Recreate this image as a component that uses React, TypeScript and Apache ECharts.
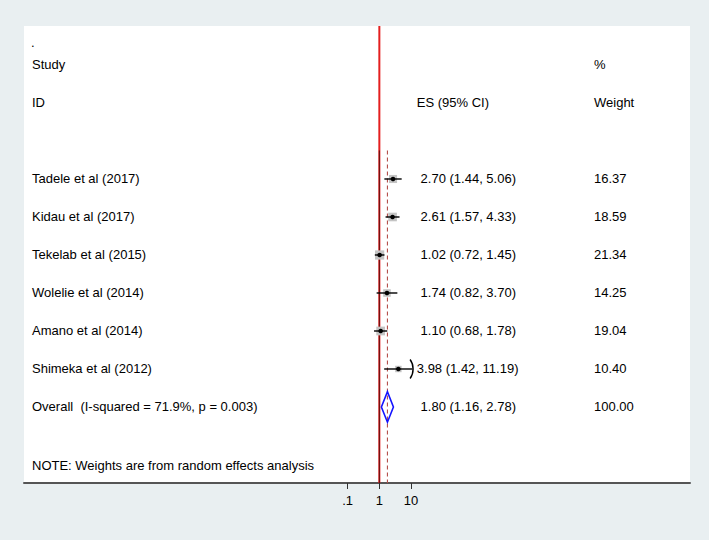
import React, { useEffect, useRef } from 'react';
import * as echarts from 'echarts';

// ---- data ----
const studies = [
  'Tadele et al (2017)',
  'Kidau et al (2017)',
  'Tekelab et al (2015)',
  'Wolelie et al (2014)',
  'Amano et al (2014)',
  'Shimeka et al (2012)',
];
const effectSizes = [2.7, 2.61, 1.02, 1.74, 1.1, 3.98];
const ciLow = [1.44, 1.57, 0.72, 0.82, 0.68, 1.42];
const ciHigh = [5.06, 4.33, 1.45, 3.7, 1.78, 11.19];
const weights = [16.37, 18.59, 21.34, 14.25, 19.04, 10.4];

const overallLabel = 'Overall\u00a0 (I-squared = 71.9%, p = 0.003)';
const overallES = 1.8;
const overallLow = 1.16;
const overallHigh = 2.78;
const overallWeight = 100.0;

const nullValue = 1;
const xTickValues = [0.1, 1, 10];
const xTickLabels = ['.1', '1', '10'];
const noteText = 'NOTE: Weights are from random effects analysis';

// ---- layout ----
const FONT = "'Liberation Sans', Arial, Helvetica, sans-serif";
const X_MIN = Math.pow(10, -11.21);
const X_MAX = Math.pow(10, 9.8);
const X_DISPLAY_MAX = 10;
const Y_MIN = -4.026;
const Y_MAX = 8;
const LINE_TOP_ROW = -0.75;
const COL_STUDY = 32;
const COL_ES = 416.8;
const COL_W = 594;
const CHAR_W = 3.8;

function fmtES(e: number, l: number, h: number) {
  return `${e.toFixed(2)} (${l.toFixed(2)}, ${h.toFixed(2)})`;
}

type TextEntry = { row: number; x: number; text: string };

function buildTexts(): TextEntry[] {
  const out: TextEntry[] = [];
  out.push({ row: -3.6, x: COL_STUDY - 1, text: '.' });
  out.push({ row: -3, x: COL_STUDY, text: 'Study' });
  out.push({ row: -3, x: COL_W, text: '%' });
  out.push({ row: -2, x: COL_STUDY, text: 'ID' });
  out.push({ row: -2, x: COL_ES, text: 'ES (95% CI)' });
  out.push({ row: -2, x: COL_W, text: 'Weight' });
  const esStrings = studies.map((_, i) => fmtES(effectSizes[i], ciLow[i], ciHigh[i]));
  const ovES = fmtES(overallES, overallLow, overallHigh);
  const maxLen = Math.max(...esStrings.map((s) => s.length), ovES.length);
  studies.forEach((s, i) => {
    out.push({ row: i, x: COL_STUDY, text: s });
    out.push({ row: i, x: COL_ES + (maxLen - esStrings[i].length) * CHAR_W, text: esStrings[i] });
    out.push({ row: i, x: COL_W, text: weights[i].toFixed(2) });
  });
  const oRow = studies.length;
  out.push({ row: oRow, x: COL_STUDY, text: overallLabel });
  out.push({ row: oRow, x: COL_ES + (maxLen - ovES.length) * CHAR_W, text: ovES });
  out.push({ row: oRow, x: COL_W, text: overallWeight.toFixed(2) });
  out.push({ row: 7.55, x: COL_STUDY, text: noteText });
  return out;
}

export default function App() {
  const ref = useRef<HTMLDivElement>(null);
  useEffect(() => {
    if (!ref.current) return;
    const chart = echarts.init(ref.current, null, { renderer: 'svg' });
    const texts = buildTexts();
    const overallRow = studies.length;

    const option: any = {
      animation: false,
      backgroundColor: '#e9eff1',
      grid: {
        left: 24,
        right: 19,
        top: 26,
        bottom: 57,
        show: true,
        backgroundColor: '#ffffff',
        borderWidth: 0,
      },
      xAxis: {
        type: 'log',
        logBase: 10,
        position: 'bottom',
        min: X_MIN,
        max: X_MAX,
        splitLine: { show: false },
        axisLine: { show: true, onZero: false, lineStyle: { color: '#555555', width: 2 } },
        axisTick: {
          show: true,
          customValues: xTickValues,
          length: 6,
          lineStyle: { color: '#333333', width: 1 },
        },
        axisLabel: {
          show: true,
          customValues: xTickValues,
          margin: 11,
          fontSize: 13,
          fontFamily: FONT,
          color: '#000000',
          formatter: (v: number) => {
            let best = 0;
            xTickValues.forEach((t, i) => {
              if (Math.abs(Math.log10(t) - Math.log10(v)) < Math.abs(Math.log10(xTickValues[best]) - Math.log10(v))) best = i;
            });
            return xTickLabels[best];
          },
        },
      },
      yAxis: {
        type: 'value',
        inverse: true,
        min: Y_MIN,
        max: Y_MAX,
        show: false,
        splitLine: { show: false },
      },
      series: [
        // reference lines
        {
          type: 'custom',
          silent: true,
          clip: false,
          data: [[nullValue, 0, overallES]],
          encode: { x: 0, y: 1 },
          renderItem: (params: any, api: any) => {
            const nTop = api.coord([nullValue, Y_MIN]);
            const nBot = api.coord([nullValue, Y_MAX]);
            const nMid = api.coord([nullValue, LINE_TOP_ROW]);
            const oTop = api.coord([overallES, LINE_TOP_ROW]);
            const oBot = api.coord([overallES, Y_MAX]);
            return {
              type: 'group',
              children: [
                {
                  type: 'line',
                  shape: { x1: nTop[0], y1: nTop[1], x2: nBot[0], y2: nBot[1] },
                  style: { stroke: '#e41f1f', lineWidth: 2 },
                },
                {
                  type: 'line',
                  shape: { x1: nMid[0], y1: nMid[1], x2: nBot[0], y2: nBot[1] },
                  style: { stroke: '#4a0a0a', lineWidth: 1, opacity: 0.85 },
                },
                {
                  type: 'line',
                  shape: { x1: oTop[0], y1: oTop[1], x2: oBot[0], y2: oBot[1] },
                  style: { stroke: '#b4504c', lineWidth: 1.1, lineDash: [4, 3] },
                },
              ],
            };
          },
        },
        // study markers
        {
          type: 'custom',
          silent: true,
          clip: false,
          data: studies.map((_, i) => [effectSizes[i], i, ciLow[i], ciHigh[i], weights[i]]),
          encode: { x: 0, y: 1 },
          renderItem: (params: any, api: any) => {
            const e = api.value(0);
            const row = api.value(1);
            const lo = api.value(2);
            const hi = api.value(3);
            const w = api.value(4);
            const c = api.coord([e, row]);
            const l = api.coord([lo, row]);
            const h = api.coord([hi, row]);
            const side = Math.sqrt(w) * 2;
            const children: any[] = [
              {
                type: 'rect',
                shape: { x: c[0] - side / 2, y: c[1] - side / 2, width: side, height: side },
                style: { fill: '#c4c4c4' },
              },
              {
                type: 'line',
                shape: { x1: l[0], y1: l[1], x2: h[0], y2: h[1] },
                style: { stroke: '#000000', lineWidth: 1.4 },
              },
              {
                type: 'circle',
                shape: { cx: c[0], cy: c[1], r: 2.3 },
                style: { fill: '#000000' },
              },
            ];
            if (hi > X_DISPLAY_MAX) {
              children.push({
                type: 'bezierCurve',
                shape: {
                  x1: h[0] - 2.5,
                  y1: h[1] - 9.5,
                  cpx1: h[0] + 1.5,
                  cpy1: h[1] - 4,
                  cpx2: h[0] + 1.5,
                  cpy2: h[1] + 4,
                  x2: h[0] - 2.5,
                  y2: h[1] + 9.5,
                },
                style: { stroke: '#000000', lineWidth: 1.4, fill: 'none' },
              });
            }
            return { type: 'group', children };
          },
        },
        // overall diamond
        {
          type: 'custom',
          silent: true,
          clip: false,
          data: [[overallES, overallRow, overallLow, overallHigh]],
          encode: { x: 0, y: 1 },
          renderItem: (params: any, api: any) => {
            const e = api.value(0);
            const row = api.value(1);
            const lo = api.value(2);
            const hi = api.value(3);
            const left = api.coord([lo, row]);
            const right = api.coord([hi, row]);
            const top = api.coord([e, row - 0.4]);
            const bot = api.coord([e, row + 0.4]);
            return {
              type: 'polygon',
              shape: { points: [left, top, right, bot] },
              style: { stroke: '#1414ff', lineWidth: 1.6, fill: 'none' },
            };
          },
        },
        // text table
        {
          type: 'custom',
          silent: true,
          clip: false,
          data: texts.map((t) => [nullValue, t.row]),
          encode: { x: 0, y: 1 },
          renderItem: (params: any, api: any) => {
            const t = texts[params.dataIndex];
            const p = api.coord([nullValue, api.value(1)]);
            return {
              type: 'text',
              x: t.x,
              y: p[1],
              style: {
                text: t.text,
                fill: '#000000',
                fontSize: 13,
                fontFamily: FONT,
                align: 'left',
                verticalAlign: 'middle',
              },
            };
          },
        },
      ],
    };
    chart.setOption(option);
    return () => chart.dispose();
  }, []);
  return (
    <div
      ref={ref}
      style={{ position: 'fixed', left: 0, top: 0, width: 709, height: 540 }}
    />
  );
}
